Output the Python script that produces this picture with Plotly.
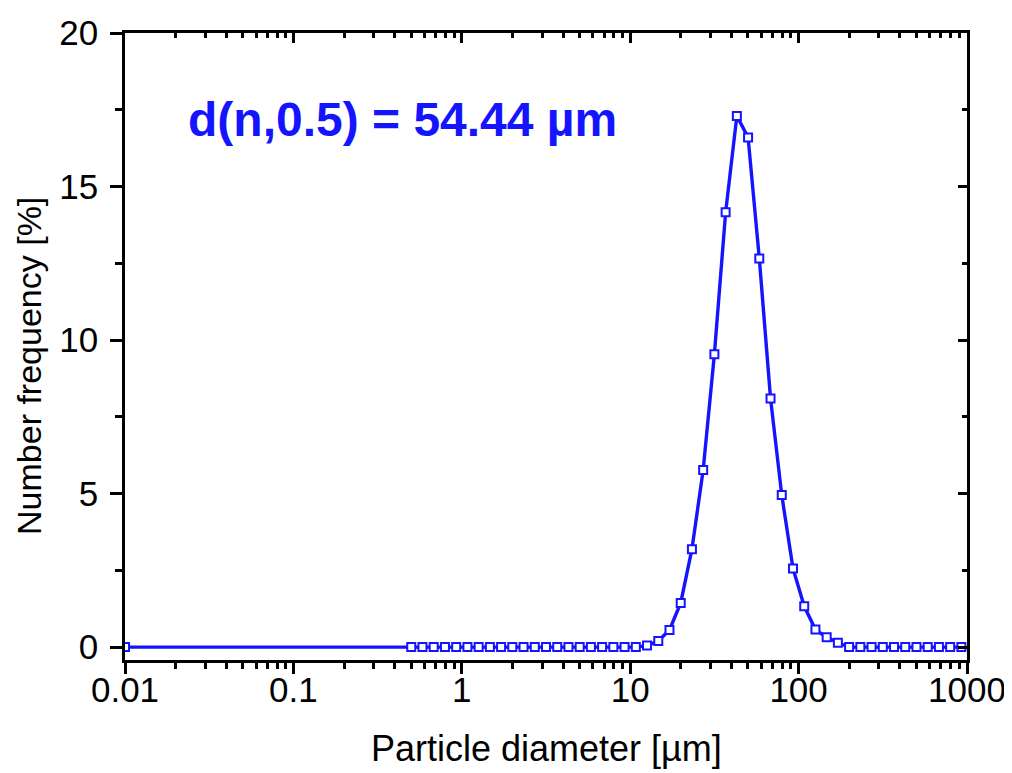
import plotly.graph_objects as go

# Particle diameter (µm) and number frequency (%)
diameter_um = [0.01,
    0.501, 0.584, 0.681, 0.794, 0.926, 1.080, 1.259, 1.468, 1.711, 1.995,
    2.326, 2.712, 3.162, 3.687, 4.299, 5.012, 5.843, 6.813, 7.943, 9.261,
    10.80, 12.59, 14.68, 17.11, 19.95, 23.26, 27.12, 31.62, 36.87, 42.99,
    50.12, 58.43, 68.13, 79.43, 92.61, 108.0, 125.9, 146.8, 171.1, 199.5,
    232.6, 271.2, 316.2, 368.7, 429.9, 501.2, 584.3, 681.3, 794.3, 926.1]
frequency_pct = [0.0,
    0.0, 0.0, 0.0, 0.0, 0.0, 0.0, 0.0, 0.0, 0.0, 0.0,
    0.0, 0.0, 0.0, 0.0, 0.0, 0.0, 0.0, 0.0, 0.0, 0.0,
    0.0, 0.05, 0.2, 0.56, 1.44, 3.19, 5.77, 9.54, 14.16, 17.3,
    16.6, 12.66, 8.10, 4.95, 2.56, 1.33, 0.57, 0.32, 0.14, 0.0,
    0.0, 0.0, 0.0, 0.0, 0.0, 0.0, 0.0, 0.0, 0.0, 0.0]

x_major = [0.01, 0.1, 1, 10, 100, 1000]
x_major_text = ["0.01", "0.1", "1", "10", "100", "1000"]
x_minor = [m * d for d in [0.01, 0.1, 1, 10, 100] for m in range(2, 10)]
y_major = [0, 5, 10, 15, 20]
y_minor = [2.5, 7.5, 12.5, 17.5]

x_title = "Particle diameter [µm]"
y_title = "Number frequency [%]"
annotation_text = "d(n,0.5) = 54.44 µm"

BLUE = "#1414ff"
FONT = "Liberation Sans, Arial, sans-serif"

fig = go.Figure()
fig.add_trace(go.Scatter(
    x=diameter_um, y=frequency_pct, mode="lines+markers",
    line=dict(color=BLUE, width=3.4),
    marker=dict(symbol="square", size=8, color="white",
                line=dict(width=2, color=BLUE)),
    showlegend=False, hoverinfo="x+y"))
# helper trace for the mirrored (top/right) axes
fig.add_trace(go.Scatter(x=[None], y=[None], xaxis="x2", yaxis="y2",
                         showlegend=False, hoverinfo="skip"))

xr = [-2, 3]
yr = [-0.42, 20]
axis_common = dict(showline=True, linecolor="black", linewidth=2.5,
                   showgrid=False, zeroline=False, tickcolor="black",
                   tickwidth=2.5, automargin=False)

fig.update_layout(
    width=1012, height=773,
    margin=dict(l=117, r=53, t=25, b=121),
    paper_bgcolor="white", plot_bgcolor="white",
    font=dict(family=FONT, color="black"),
    xaxis=dict(type="log", range=xr, tickmode="array", tickvals=x_major,
               ticktext=x_major_text, ticks="outside", ticklen=11,
               tickfont=dict(size=35), ticklabelstandoff=-14,
               minor=dict(tickmode="array", tickvals=x_minor, ticks="outside",
                          ticklen=6, tickwidth=2.5, tickcolor="black"),
               **axis_common),
    xaxis2=dict(type="log", range=xr, overlaying="x", side="top",
                tickmode="array", tickvals=x_major, ticks="inside", ticklen=10,
                showticklabels=False,
                minor=dict(tickmode="array", tickvals=x_minor, ticks="inside",
                           ticklen=5, tickwidth=2.5, tickcolor="black"),
                **axis_common),
    yaxis=dict(range=yr, tickmode="array", tickvals=y_major, ticks="outside",
               ticklen=12, tickfont=dict(size=35), ticklabelstandoff=5,
               minor=dict(tickmode="array", tickvals=y_minor, ticks="outside",
                          ticklen=7, tickwidth=2.5, tickcolor="black"),
               **axis_common),
    yaxis2=dict(range=yr, overlaying="y", side="right", tickmode="array",
                tickvals=y_major, ticks="inside", ticklen=9,
                showticklabels=False,
                minor=dict(tickmode="array", tickvals=y_minor, ticks="inside",
                           ticklen=5, tickwidth=2.5, tickcolor="black"),
                **axis_common),
    annotations=[
        dict(text="<b>" + annotation_text + "</b>", x=0.329, y=0.862,
             xref="paper", yref="paper", xanchor="center", yanchor="middle",
             showarrow=False, font=dict(size=48, color=BLUE, family=FONT)),
        dict(text=x_title, x=0.5, y=-0.1404, xref="paper", yref="paper",
             xanchor="center", yanchor="middle", showarrow=False,
             font=dict(size=36, family=FONT, color="black")),
        dict(text=y_title, x=-0.114, y=0.469, xref="paper", yref="paper",
             xanchor="center", yanchor="middle", textangle=-90,
             showarrow=False, font=dict(size=34, family=FONT, color="black")),
    ],
)

fig.write_html("out.html")
